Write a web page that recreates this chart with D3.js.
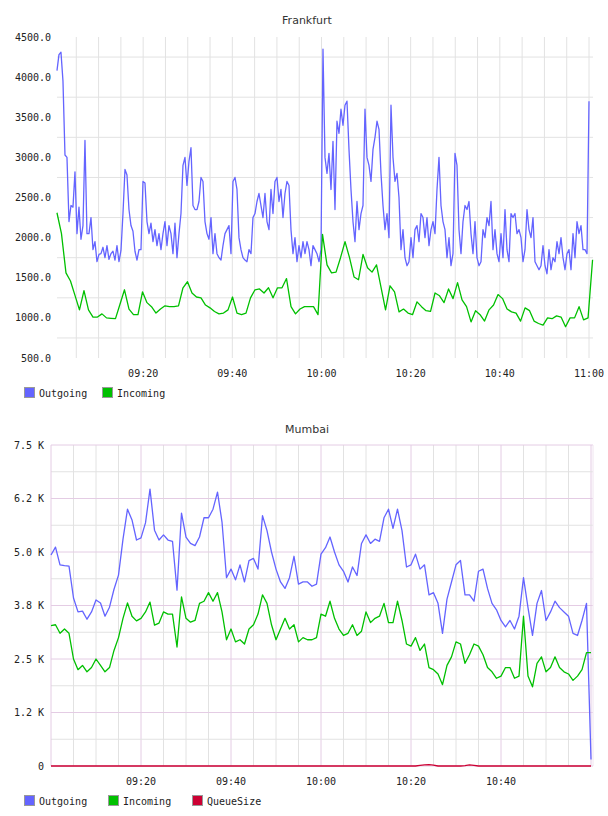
<!DOCTYPE html>
<html>
<head>
<meta charset="utf-8">
<script src="https://cdn.jsdelivr.net/npm/d3@7"></script>
<style>
    body { margin: 0; background: #fff; }
    text { font-family: "DejaVu Sans Mono", monospace; font-size: 10px; fill: #222; }
    .title { font-family: "DejaVu Sans", sans-serif; font-size: 11px; fill: #333; }
</style>
</head>
<body>
<svg id="chart" width="608" height="816"></svg>
<script>

// ---- data ----
const frankfurtOutgoing = [4080,4280,4310,3950,3030,3000,2200,2400,2380,2820,2050,2380,1980,2150,3210,2050,2050,2250,1850,1950,
    1700,1790,1800,1880,1750,1900,1730,1800,1830,1720,1900,1700,1840,2300,2850,2780,2350,2150,2080,1830,
    1720,1850,1850,2700,2680,2200,2050,2180,1950,2100,1900,2050,1850,2050,2200,1900,2150,2050,1800,2180,
    1750,2050,2300,2900,3000,2650,2950,3120,2400,2350,2350,2450,2750,2700,2200,2050,1980,2250,1800,2050,
    1800,1750,1720,1900,2050,2100,2150,1800,2700,2750,2600,2000,1850,1750,1720,1700,1850,1800,2250,2300,
    2450,2550,2400,2250,2550,2200,2100,2600,2300,2700,2750,2450,2600,2250,2550,2700,2650,2100,1800,2000,
    1700,1900,1750,1950,1800,1950,1850,1650,1900,1850,1800,1700,1850,4350,3000,2800,3050,2600,3200,2350,
    3450,3300,3600,3400,3650,3700,3100,2600,2200,1950,2450,2100,2300,2400,3600,3000,2900,2700,3100,3250,
    3450,3350,2800,2400,2100,2300,2000,3650,3000,2700,2800,2500,1850,2100,1750,1650,1700,2000,1750,2100,
    2150,1950,2300,2250,2000,2250,1900,2100,2200,2050,2600,3000,2400,2200,2100,1750,2000,1650,1800,3050,
    2900,2100,1800,2200,2400,2350,2450,2050,1800,2200,1750,1650,1700,2100,2000,2250,2150,2450,1850,2100,
    1800,1700,2050,1750,2350,1850,1700,2300,2250,2300,2050,2100,2000,1700,1850,2350,2100,2000,2250,1700,
    1650,1600,1650,1900,1650,1550,1850,1600,1750,1700,1950,1800,2000,1750,1600,1800,1850,1600,2050,1750,
    2200,2050,2150,1850,1850,1800,3700];

const frankfurtIncoming = [2310,2050,1560,1460,1280,1100,1340,1100,1010,1010,1050,1000,995,990,1170,1350,1110,1040,1040,1325,
    1190,1140,1060,1110,1150,1140,1140,1150,1375,1450,1310,1260,1250,1160,1125,1080,1050,1060,1100,1260,
    1060,1040,1060,1250,1350,1360,1310,1375,1250,1375,1375,1490,1140,1050,1110,1140,1140,1140,1040,2040,
    1660,1560,1570,1750,1950,1750,1510,1475,1790,1625,1570,1660,1380,1100,1400,1325,1075,1110,1060,1040,
    1200,1140,1090,1080,1310,1275,1190,1360,1240,1440,1225,1140,950,1090,1040,960,1100,1160,1290,1240,
    1110,1075,1060,960,1125,1090,960,930,910,1000,990,1025,1010,890,1000,1000,1140,975,1000,1725];

const mumbaiOutgoing = [4930,5115,4700,4680,4670,3925,3600,3620,3430,3600,3880,3810,3500,3710,4130,4460,5300,6000,5750,5280,
    5330,5680,6470,5510,5280,5400,5280,5250,4110,5910,5350,5200,5150,5350,5800,5800,6000,6400,5700,4400,
    4600,4350,4700,4300,4800,4850,4600,5850,5500,5000,4600,4300,4150,4400,4900,4250,4300,4300,4200,4250,
    4950,5100,5350,5000,4700,4550,4300,4650,4450,5200,5400,5200,5300,5250,5800,6000,5550,6000,5500,4650,
    4700,4950,4600,4700,4000,4050,3800,3100,3900,4300,4700,4800,4000,4000,3850,4550,4600,4150,3800,3650,
    3400,3250,3400,3200,3500,4400,3700,3050,3800,4100,3400,3600,3850,3700,3600,3500,3100,3050,3400,3800,
    150];

const mumbaiIncoming = [3280,3300,3100,3200,3100,2500,2250,2350,2200,2300,2500,2350,2200,2300,2700,3000,3450,3810,3500,3390,
    3450,3600,3830,3290,3340,3600,3550,3550,2780,3950,3450,3360,3400,3800,3850,4050,3850,4050,3600,2950,
    3200,2900,2950,2850,3200,3300,3550,4000,3800,3300,2950,3200,3450,3200,3300,2900,3000,2950,2950,3000,
    3550,3500,3850,3450,3200,3050,3100,3300,3050,3150,3600,3350,3450,3500,3800,3350,3350,3850,3400,2850,
    2800,3000,2700,2850,2300,2250,2150,1900,2350,2550,2900,2850,2400,2600,2850,2800,2600,2300,2200,2050,
    2100,2300,2300,2050,2100,3500,2100,1850,2400,2550,2200,2300,2550,2300,2200,2150,2000,2100,2250,2650,
    2650];

const mumbaiQueue = [0,0,0,0,0,0,0,0,0,0,0,0,0,0,0,0,0,0,0,0,
    0,0,0,0,0,0,0,0,0,0,0,0,0,0,0,0,0,0,0,0,
    0,0,0,0,0,0,0,0,0,0,0,0,0,0,0,0,0,0,0,0,
    0,0,0,0,0,0,0,0,0,0,0,0,0,0,0,0,0,0,0,0,
    0,0,15,25,30,20,0,0,0,0,0,0,10,25,15,0,0,0,0,0,
    0,0,0,0,0,0,0,0,0,0,0,0,0,0,0,0,0,0,0,0,
    0];

const frankfurtYTicks = [500, 1000, 1500, 2000, 2500, 3000, 3500, 4000, 4500];
const mumbaiYTicks = [0, 1250, 2500, 3750, 5000, 6250, 7500];
const mumbaiYLabels = ["0", "1.2 K", "2.5 K", "3.8 K", "5.0 K", "6.2 K", "7.5 K"];
const frankfurtXLabels = ["09:20", "09:40", "10:00", "10:20", "10:40", "11:00"];
const mumbaiXLabels = ["09:20", "09:40", "10:00", "10:20", "10:40"];

const seriesNames = ["Outgoing", "Incoming", "QueueSize"];
const seriesColors = ["#6464ff", "#00c000", "#cc0033"];

// ---- helpers ----
let t = (h, m, s) => new Date(2024, 0, 1, h, m, s || 0);
let parseHM = d3.timeParse("%H:%M");
let labelTime = s => { let p = parseHM(s); return t(p.getHours(), p.getMinutes()); };

// spread the samples evenly between first and last sample time
function toPoints(values, start, end) {
    let step = (end - start) / (values.length - 1);
    return values.map((v, i) => ({time: new Date(+start + i * step), value: v}));
}

let svg = d3.select("#chart");

function drawChart(cfg) {
    let g = svg.append("g");

    let x = d3.scaleTime().domain([t(9, 0), t(11, 0)]).range(cfg.xRange);
    let y = d3.scaleLinear().domain(cfg.yDomain).range([cfg.bottom, cfg.top]);

    // title
    g.append("text")
        .attr("class", "title")
        .attr("x", 307)
        .attr("y", cfg.titleY)
        .attr("text-anchor", "middle")
        .text(cfg.title);

    // vertical grid every 5 minutes
    let minutes = d3.timeMinute.every(5).range(t(9, 0), t(11, 0, 1));
    g.selectAll(".vgrid")
        .data(minutes.filter(d => x(d) > cfg.left + 1))
        .enter().append("line")
        .attr("x1", d => x(d)).attr("x2", d => x(d))
        .attr("y1", cfg.top).attr("y2", cfg.bottom)
        .attr("stroke", d => cfg.major && d.getMinutes() % 20 == 0 ? cfg.majorColor : "#e2e2e2")
        .attr("stroke-width", 1);

    // horizontal grid
    g.selectAll(".hgrid")
        .data(cfg.hGrid)
        .enter().append("line")
        .attr("x1", cfg.left).attr("x2", cfg.right)
        .attr("y1", d => y(d.v)).attr("y2", d => y(d.v))
        .attr("stroke", d => d.major ? cfg.majorColor : "#e2e2e2")
        .attr("stroke-width", 1);

    if (cfg.major) {
        g.append("line")
            .attr("x1", cfg.left).attr("x2", cfg.left)
            .attr("y1", cfg.top).attr("y2", cfg.bottom)
            .attr("stroke", cfg.majorColor);
        g.append("line")
            .attr("x1", cfg.right).attr("x2", cfg.right)
            .attr("y1", cfg.top).attr("y2", cfg.bottom)
            .attr("stroke", "#f0e4f0");
    }

    // y labels
    g.selectAll(".ylabel")
        .data(cfg.yTicks)
        .enter().append("text")
        .attr("x", cfg.yLabelX)
        .attr("y", d => y(d))
        .attr("dy", "0.35em")
        .attr("text-anchor", "end")
        .text((d, i) => cfg.yLabels[i]);

    // x labels
    g.selectAll(".xlabel")
        .data(cfg.xLabels)
        .enter().append("text")
        .attr("x", d => x(labelTime(d)))
        .attr("y", cfg.xLabelY)
        .attr("dy", "0.35em")
        .attr("text-anchor", "middle")
        .text(d => d);

    // lines
    let line = d3.line()
        .x(d => x(d.time))
        .y(d => y(d.value));

    cfg.series.forEach(s => {
        g.append("path")
            .datum(toPoints(s.values, s.start, s.end))
            .attr("fill", "none")
            .attr("stroke", seriesColors[s.idx])
            .attr("stroke-width", 1.3)
            .attr("stroke-linejoin", "round")
            .attr("d", line);
    });

    // legend
    let leg = g.selectAll(".legend")
        .data(cfg.series)
        .enter().append("g")
        .attr("transform", (d, i) => "translate(" + cfg.legendX[i] + "," + cfg.legendY + ")");

    leg.append("rect")
        .attr("x", 0.5).attr("y", 0.5)
        .attr("width", 10).attr("height", 10)
        .attr("fill", d => seriesColors[d.idx])
        .attr("stroke", "#999");

    leg.append("text")
        .attr("x", 15)
        .attr("y", 6)
        .attr("dy", "0.35em")
        .text(d => seriesNames[d.idx]);
}

drawChart({
    title: "Frankfurt",
    titleY: 24,
    top: 37, bottom: 358, left: 57, right: 593,
    xRange: [54, 589],
    yDomain: [500, 4500],
    yTicks: frankfurtYTicks,
    yLabels: frankfurtYTicks.map(d => d3.format(".1f")(d)),
    yLabelX: 51,
    hGrid: [750, 1250, 1750, 2250, 2750, 3250, 3750, 4250].map(v => ({v: v, major: false})),
    major: false,
    xLabels: frankfurtXLabels,
    xLabelY: 373,
    legendX: [24, 102],
    legendY: 387,
    series: [
        {idx: 0, values: frankfurtOutgoing, start: t(9, 0, 40), end: t(11, 0)},
        {idx: 1, values: frankfurtIncoming, start: t(9, 0, 40), end: t(11, 0, 48)}
    ]
});

drawChart({
    title: "Mumbai",
    titleY: 433,
    top: 445, bottom: 766, left: 51, right: 593,
    xRange: [51, 591],
    yDomain: [0, 7500],
    yTicks: mumbaiYTicks,
    yLabels: mumbaiYLabels,
    yLabelX: 44,
    hGrid: d3.range(0, 7501, 625).map(v => ({v: v, major: v % 1250 == 0})),
    major: true,
    majorColor: "#e4cce4",
    xLabels: mumbaiXLabels,
    xLabelY: 781,
    legendX: [24, 108, 192],
    legendY: 795,
    series: [
        {idx: 0, values: mumbaiOutgoing, start: t(9, 0), end: t(11, 0)},
        {idx: 1, values: mumbaiIncoming, start: t(9, 0), end: t(11, 0)},
        {idx: 2, values: mumbaiQueue, start: t(9, 0), end: t(11, 0)}
    ]
});

</script>
</body>
</html>
